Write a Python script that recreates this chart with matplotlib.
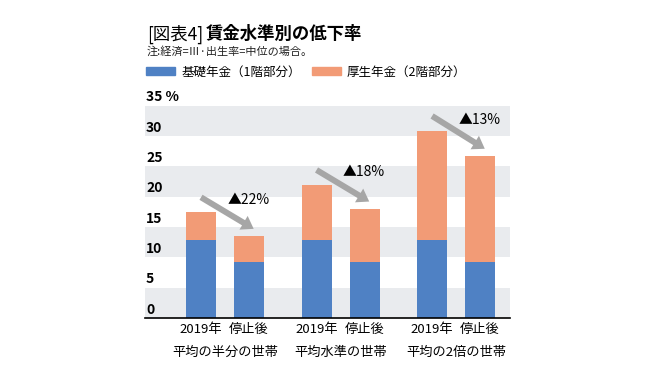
import matplotlib
matplotlib.use("Agg")
import matplotlib.pyplot as plt
import matplotlib.transforms as mtransforms
from matplotlib.patches import Patch
import numpy as np

plt.rcParams['font.family'] = ['Noto Sans CJK JP', 'DejaVu Sans']

groups = ['平均の半分の世帯', '平均水準の世帯', '平均の2倍の世帯']
bar_names = ['2019年', '停止後']
kiso = [[12.9, 9.3], [12.9, 9.3], [12.9, 9.3]]      # 基礎年金
kosei = [[4.5, 4.2], [9.0, 8.7], [17.9, 17.4]]     # 厚生年金
drops = ['▲22%', '▲18%', '▲13%']
yticks = [0, 5, 10, 15, 20, 25, 30, 35]
ytick_labels = ['0', '5', '10', '15', '20', '25', '30', '35 %']

blue = '#4f81c4'
orange = '#f29b76'
band = '#e9ebee'
arrow_gray = '#a6a6a6'

fig = plt.figure(figsize=(6.59, 3.74), dpi=100)
ax = fig.add_axes([0.22, 0.1497, 0.554, 0.5677])

off = 0.208
w = 0.26
xs = np.arange(len(groups))

# alternating background bands
for lo in range(0, 35, 10):
    ax.axhspan(lo, lo + 5, color=band, zorder=0, lw=0)

for i, g in enumerate(groups):
    for j in range(2):
        x = xs[i] + (j * 2 - 1) * off
        ax.bar(x, kiso[i][j], width=w, color=blue, zorder=2)
        ax.bar(x, kosei[i][j], bottom=kiso[i][j], width=w, color=orange, zorder=2)
        ax.text(x, -0.052, bar_names[j], transform=ax.get_xaxis_transform(),
                ha='center', va='center', fontsize=9.5)
    ax.text(xs[i], -0.16, g, transform=ax.get_xaxis_transform(),
            ha='center', va='center', fontsize=9.5)

    t1 = kiso[i][0] + kosei[i][0]
    t2 = kiso[i][1] + kosei[i][1]
    ax.annotate('', xy=(xs[i] + off + 0.04, t2 + 1.2), xytext=(xs[i] - off, t1 + 2.5),
                arrowprops=dict(width=4.3, headwidth=11.5, headlength=8.5,
                                color=arrow_gray, shrink=0, lw=0), zorder=3)
    ax.text(xs[i] + 0.02, t2 + 6.0, drops[i], ha='left', va='center', fontsize=10, zorder=3)

ax.set_xlim(-0.693, 2.467)
ax.set_ylim(0, 35)
ax.set_xticks([])
ax.set_yticks([])
for s in ['left', 'right', 'top']:
    ax.spines[s].set_visible(False)
ax.spines['bottom'].set_linewidth(1.2)
ax.spines['bottom'].set_zorder(4)

lab_tr = mtransforms.offset_copy(ax.get_yaxis_transform(), fig=fig, x=0, y=1.0, units='points')
for v, l in zip(yticks, ytick_labels):
    ax.text(0.003, v, l, transform=lab_tr, ha='left', va='bottom',
            fontsize=10, fontweight='bold', clip_on=False, zorder=5)

fig.text(0.2226, 0.908, '[図表4]', fontsize=12.5, ha='left', va='center')
fig.text(0.312, 0.908, '賃金水準別の低下率', fontsize=12.5, fontweight='bold', ha='left', va='center')
fig.text(0.2226, 0.862, '注:経済=Ⅲ·出生率=中位の場合。', fontsize=8, ha='left', va='center', color='#222222')

handles = [Patch(color=blue), Patch(color=orange)]
fig.legend(handles, ['基礎年金（1階部分）', '厚生年金（2階部分）'], ncol=2, frameon=False,
           loc='center left', bbox_to_anchor=(0.222, 0.8075), fontsize=9,
           handlelength=2.3, handleheight=0.5, handletextpad=0.5, columnspacing=0.9,
           borderpad=0, borderaxespad=0)

fig.savefig('out.png', dpi=100)
